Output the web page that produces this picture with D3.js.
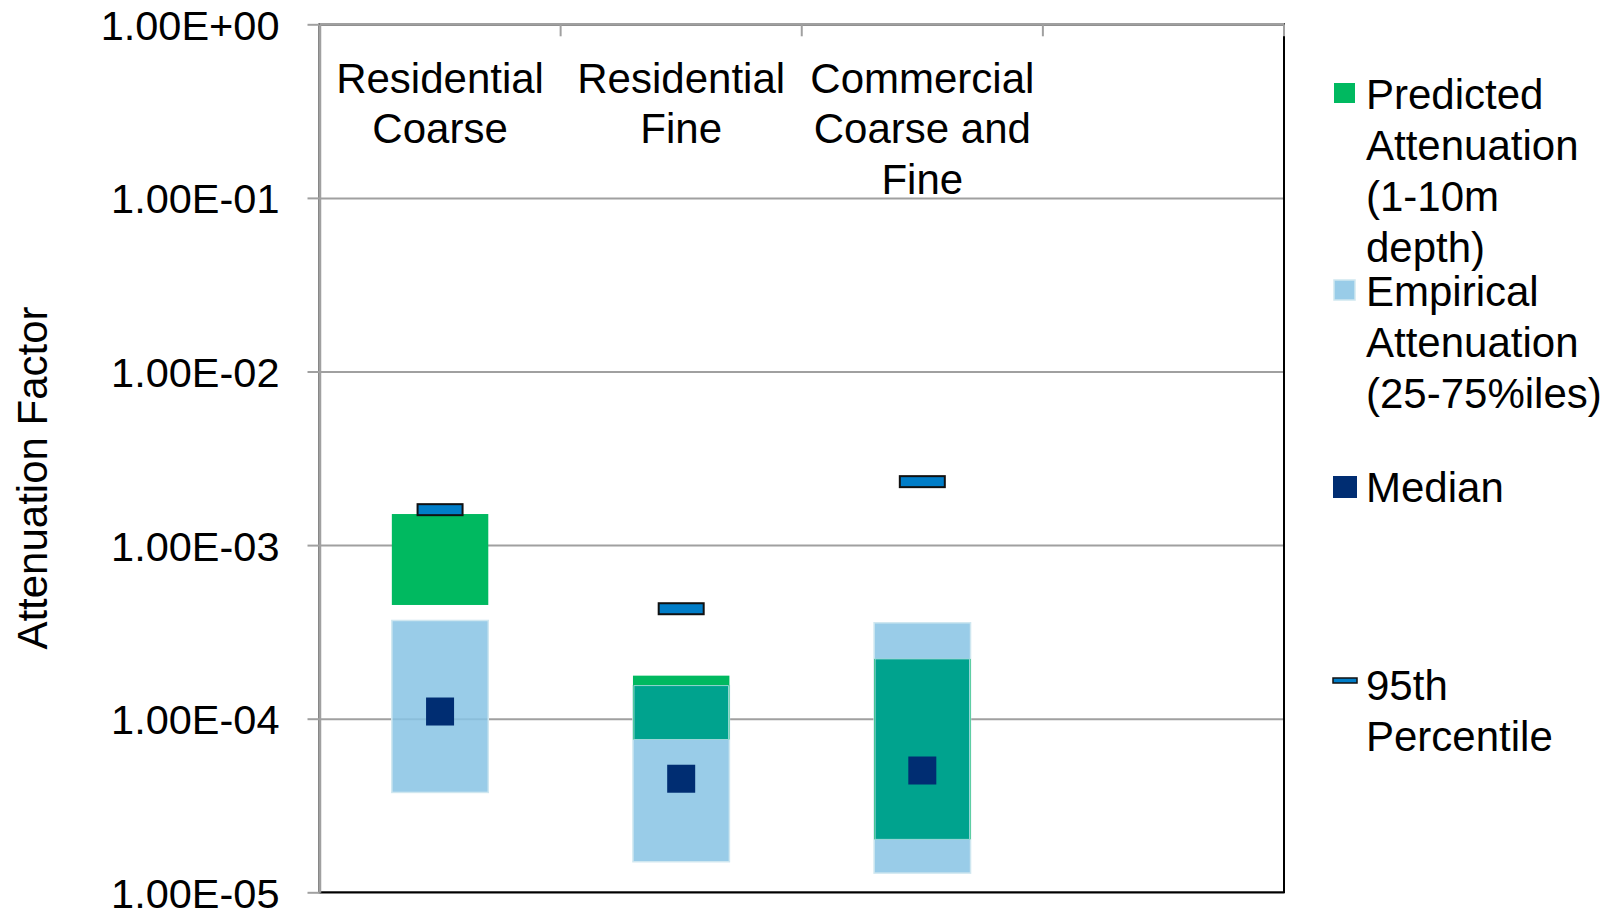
<!DOCTYPE html>
<html>
<head>
<meta charset="utf-8">
<script src="https://cdn.jsdelivr.net/npm/d3@7/dist/d3.min.js"></script>
<style>
  body { margin: 0; background: #fff; }
  svg { display: block; font-family: 'Liberation Sans', Arial, sans-serif; }
</style>
</head>
<body>
<svg width="1616" height="914"></svg>
<script>
// chart values
const categories = ['Residential Coarse', 'Residential Fine', 'Commercial Coarse and Fine', 'blank']
const categoryLines = [['Residential', 'Coarse'], ['Residential', 'Fine'], ['Commercial', 'Coarse and', 'Fine'], []]
const predictedLow = [4.52e-4, 7.6e-5, 2.02e-5]
const predictedHigh = [1.51e-3, 1.77e-4, 2.21e-4]
const empiricalLow = [3.76e-5, 1.50e-5, 1.29e-5]
const empiricalHigh = [3.68e-4, 1.55e-4, 3.57e-4]
const medians = [1.10e-4, 4.51e-5, 5.03e-5]
const p95 = [1.60e-3, 4.30e-4, 2.32e-3]
const yTicks = [1, 1e-1, 1e-2, 1e-3, 1e-4, 1e-5]
const yTickLabels = ['1.00E+00', '1.00E-01', '1.00E-02', '1.00E-03', '1.00E-04', '1.00E-05']

const GREEN = '#00b960', LIGHT = '#87c3e4', TEAL = '#00a38e', NAVY = '#002d72', P95 = '#007dc8'

document.addEventListener('DOMContentLoaded', () => {
    const svg = d3.select('svg')
    const margin = {top: 24.3, right: 332, bottom: 21.7, left: 319.5}
    const width = +svg.attr('width')
    const height = +svg.attr('height')
    const x0 = margin.left, x1 = width - margin.right
    const y0 = margin.top, y1 = height - margin.bottom

    const xScale = d3.scaleBand().domain(categories).range([x0, x1])
    const yScale = d3.scaleLog().domain([1e-5, 1]).range([y1, y0])
    const bw = xScale.bandwidth() * 0.4
    const cx = i => xScale(categories[i]) + xScale.bandwidth() / 2

    // gridlines
    const grid = svg.append('g')
        .attr('transform', `translate(${x0},0)`)
        .call(d3.axisLeft(yScale).tickValues(yTicks).tickSize(-(x1 - x0)).tickFormat(''))
    grid.select('.domain').remove()
    grid.selectAll('line').attr('stroke', '#a0a0a0').attr('stroke-width', 2)

    // plot border (right + bottom black)
    svg.append('rect')
        .attr('x', x0).attr('y', y0).attr('width', x1 - x0).attr('height', y1 - y0)
        .attr('fill', 'none').attr('stroke', '#000').attr('stroke-width', 2)

    const idx = d3.range(medians.length)
    const g = svg.append('g')

    // empirical 25-75%
    g.selectAll('rect.emp').data(idx).enter().append('rect')
        .attr('class', 'emp')
        .attr('x', i => cx(i) - bw / 2)
        .attr('width', bw)
        .attr('y', i => yScale(empiricalHigh[i]))
        .attr('height', i => yScale(empiricalLow[i]) - yScale(empiricalHigh[i]))
        .attr('fill', LIGHT).attr('fill-opacity', 0.85)
        .attr('stroke', '#cfe7f0').attr('stroke-width', 1.5)

    // predicted
    g.selectAll('rect.pred').data(idx).enter().append('rect')
        .attr('x', i => cx(i) - bw / 2)
        .attr('width', bw)
        .attr('y', i => yScale(predictedHigh[i]))
        .attr('height', i => yScale(predictedLow[i]) - yScale(predictedHigh[i]))
        .attr('fill', GREEN)

    // overlap of predicted and empirical
    g.selectAll('rect.over').data(idx.filter(i => Math.min(predictedHigh[i], empiricalHigh[i]) > Math.max(predictedLow[i], empiricalLow[i])))
        .enter().append('rect')
        .attr('x', i => cx(i) - bw / 2 + 1)
        .attr('width', bw - 2)
        .attr('y', i => yScale(Math.min(predictedHigh[i], empiricalHigh[i])))
        .attr('height', i => yScale(Math.max(predictedLow[i], empiricalLow[i])) - yScale(Math.min(predictedHigh[i], empiricalHigh[i])))
        .attr('fill', TEAL)
        .attr('stroke', '#b9dfe9').attr('stroke-width', 0.8)

    // median
    g.selectAll('rect.med').data(idx).enter().append('rect')
        .attr('x', i => cx(i) - 14)
        .attr('y', i => yScale(medians[i]) - 14)
        .attr('width', 28).attr('height', 28)
        .attr('fill', NAVY)

    // 95th percentile
    g.selectAll('rect.p95').data(idx).enter().append('rect')
        .attr('x', i => cx(i) - 22.5)
        .attr('y', i => yScale(p95[i]) - 5.5)
        .attr('width', 45).attr('height', 11)
        .attr('fill', P95).attr('stroke', '#111').attr('stroke-width', 2)

    // y axis
    const yAxis = svg.append('g')
        .attr('transform', `translate(${x0},0)`)
        .call(d3.axisLeft(yScale).tickValues(yTicks).tickFormat((d, i) => yTickLabels[i]).tickSize(12).tickSizeOuter(0).tickPadding(28))
    yAxis.select('.domain').attr('stroke', '#a0a0a0').attr('stroke-width', 2.5)
    yAxis.selectAll('line').attr('stroke', '#a0a0a0').attr('stroke-width', 2)
    yAxis.selectAll('text').attr('font-size', 41.5).attr('fill', '#000')
        .attr('font-family', "'Liberation Sans', Arial, sans-serif").attr('dy', '0.36em')

    // top category axis
    svg.append('line').attr('x1', x0).attr('x2', x1).attr('y1', y0).attr('y2', y0)
        .attr('stroke', '#a0a0a0').attr('stroke-width', 2.5)
    svg.selectAll('line.ctick').data(categories).enter().append('line')
        .attr('x1', d => xScale(d) + xScale.bandwidth()).attr('x2', d => xScale(d) + xScale.bandwidth())
        .attr('y1', y0).attr('y2', y0 + 12)
        .attr('stroke', '#a0a0a0').attr('stroke-width', 2)

    categoryLines.forEach((lines, i) => {
        svg.append('text')
            .attr('x', cx(i)).attr('y', 92.5)
            .attr('text-anchor', 'middle').attr('font-size', 42)
            .selectAll('tspan').data(lines).enter().append('tspan')
            .attr('x', cx(i)).attr('dy', (d, j) => j === 0 ? 0 : 50.5)
            .text(d => d)
    })

    // y title
    svg.append('text')
        .attr('transform', 'translate(47,478) rotate(-90)')
        .attr('text-anchor', 'middle').attr('font-size', 42)
        .text('Attenuation Factor')

    // legend
    const legend = [
        {lines: ['Predicted', 'Attenuation', '(1-10m', 'depth)'], base: 109, kind: 'pred'},
        {lines: ['Empirical', 'Attenuation', '(25-75%iles)'], base: 306, kind: 'emp'},
        {lines: ['Median'], base: 502, kind: 'med'},
        {lines: ['95th', 'Percentile'], base: 700, kind: 'p95'}
    ]
    const lx = 1366
    legend.forEach(l => {
        const cy = l.base - 15
        if (l.kind === 'pred') {
            svg.append('rect').attr('x', 1334).attr('y', cy - 11).attr('width', 21).attr('height', 20).attr('fill', GREEN)
        } else if (l.kind === 'emp') {
            svg.append('rect').attr('x', 1334).attr('y', cy - 11).attr('width', 21).attr('height', 20)
                .attr('fill', LIGHT).attr('fill-opacity', 0.85).attr('stroke', '#cfe7f0').attr('stroke-width', 1.5)
        } else if (l.kind === 'med') {
            svg.append('rect').attr('x', 1333).attr('y', cy - 11).attr('width', 24).attr('height', 22).attr('fill', NAVY)
        } else {
            svg.append('rect').attr('x', 1333).attr('y', cy - 7).attr('width', 24).attr('height', 5)
                .attr('fill', P95).attr('stroke', '#111').attr('stroke-width', 1.5)
        }
        svg.append('text')
            .attr('x', lx).attr('y', l.base).attr('font-size', 42)
            .selectAll('tspan').data(l.lines).enter().append('tspan')
            .attr('x', lx).attr('dy', (d, j) => j === 0 ? 0 : 51)
            .text(d => d)
    })
})
</script>
</body>
</html>
